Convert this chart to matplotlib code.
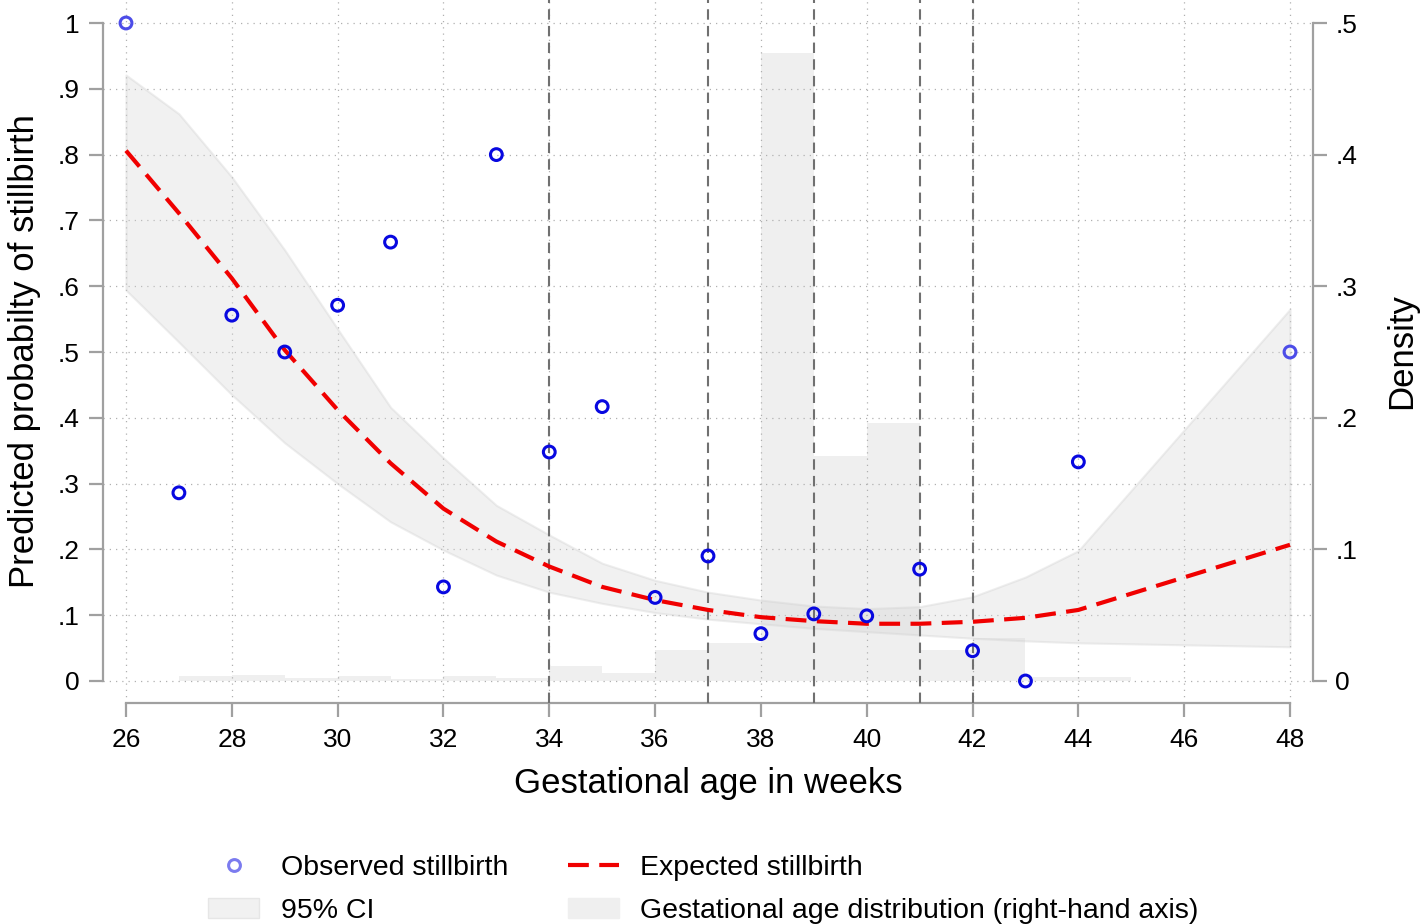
import matplotlib
matplotlib.use('Agg')
import matplotlib.pyplot as plt
from matplotlib.lines import Line2D
from matplotlib.patches import Patch

plt.rcParams['font.family'] = ['Liberation Sans', 'DejaVu Sans']

# gestational weeks with an estimate (no data at 45-47)
weeks = [26, 27, 28, 29, 30, 31, 32, 33, 34, 35, 36, 37, 38, 39, 40, 41, 42, 43, 44, 48]
# observed share of stillbirths
observed = [1.0, 0.286, 0.556, 0.5, 0.571, 0.667, 0.143, 0.8, 0.348, 0.417,
            0.127, 0.19, 0.072, 0.102, 0.099, 0.17, 0.046, 0.0, 0.333, 0.5]
# model prediction and its 95% CI
expected = [0.806, 0.711, 0.612, 0.503, 0.412, 0.331, 0.262, 0.212, 0.174, 0.143,
            0.123, 0.108, 0.097, 0.091, 0.087, 0.087, 0.090, 0.096, 0.108, 0.207]
ci_low = [0.594, 0.515, 0.435, 0.362, 0.300, 0.242, 0.199, 0.161, 0.135, 0.118,
          0.104, 0.094, 0.087, 0.080, 0.075, 0.070, 0.065, 0.061, 0.058, 0.052]
ci_high = [0.921, 0.862, 0.766, 0.655, 0.535, 0.416, 0.339, 0.267, 0.222, 0.179,
           0.153, 0.135, 0.123, 0.114, 0.110, 0.113, 0.128, 0.158, 0.198, 0.565]

# histogram of gestational age (density, right-hand axis), bins start at these weeks
hist_weeks = [27, 28, 29, 30, 31, 32, 33, 34, 35, 36, 37, 38, 39, 40, 41, 42, 43, 44]
hist_density = [0.0036, 0.0046, 0.002, 0.0036, 0.0015, 0.0036, 0.0024, 0.0116, 0.0063,
                0.0236, 0.029, 0.477, 0.171, 0.196, 0.0236, 0.0324, 0.0028, 0.0028]

# vertical reference lines
ref_weeks = [34, 37, 39, 41, 42]

x_ticks = list(range(26, 49, 2))
y_ticks = [0, 0.1, 0.2, 0.3, 0.4, 0.5, 0.6, 0.7, 0.8, 0.9, 1.0]
y_labels = ['0', '.1', '.2', '.3', '.4', '.5', '.6', '.7', '.8', '.9', '1']
y2_ticks = [0, 0.1, 0.2, 0.3, 0.4, 0.5]
y2_labels = ['0', '.1', '.2', '.3', '.4', '.5']

axis_grey = '#a0a0a0'

fig = plt.figure(figsize=(14.22, 9.24), dpi=100)
ax = fig.add_axes([103 / 1422, 221 / 924, 1210 / 1422, 703 / 924])
ax2 = ax.twinx()
ax.set_zorder(ax2.get_zorder() + 1)
ax.patch.set_visible(False)

# histogram behind everything
ax2.bar(hist_weeks, hist_density, width=1, align='edge', color='#efefef', linewidth=0)

# CI band, expected line, observed points
ax.fill_between(weeks, ci_low, ci_high, facecolor='#d6d6d6', alpha=0.33,
                edgecolor='#cdcdcd', linewidth=1.5, zorder=2)
for w in ref_weeks:
    ax.axvline(w, color='#707070', lw=1.5, dashes=(5, 3), zorder=3)
ax.plot(weeks, expected, color='#f00000', lw=3, dashes=(5, 2.5), zorder=4)
edge = [w in (min(weeks), max(weeks)) for w in weeks]
mcol = ['#4c4ce8' if e else '#0808e0' for e in edge]
ax.scatter(weeks, observed, s=72, facecolors='none', edgecolors=mcol, linewidths=2.2,
           zorder=5, clip_on=False)

# limits so the ticks sit inside the plot region, Stata style
px_x = (1290 - 126) / 22.0
ax.set_xlim(26 - 23 / px_x, 48 + 23 / px_x)
ax.set_ylim(-22 / 658, 1 + 23 / 658)
ax2.set_ylim(-22 / 1316, 0.5 + 23 / 1316)

ax.set_xticks(x_ticks)
ax.set_yticks(y_ticks)
ax.set_yticklabels(y_labels)
ax2.set_yticks(y2_ticks)
ax2.set_yticklabels(y2_labels)

ax.grid(True, linestyle=(0, (1, 4)), color='#b0b0b0', lw=0.9)
ax.set_axisbelow(True)

for s in ['top', 'right']:
    ax.spines[s].set_visible(False)
for s in ['top', 'left', 'bottom']:
    ax2.spines[s].set_visible(False)
ax.spines['left'].set_bounds(0, 1)
ax.spines['bottom'].set_bounds(26, 48)
ax2.spines['right'].set_bounds(0, 0.5)
for sp in [ax.spines['left'], ax.spines['bottom'], ax2.spines['right']]:
    sp.set_color(axis_grey)
    sp.set_linewidth(1.6)

ax.tick_params(axis='both', direction='out', length=10, width=1.6, color=axis_grey,
               labelsize=19, labelcolor='black')
ax.tick_params(axis='x', pad=8)
ax.tick_params(axis='y', pad=7)
ax2.tick_params(axis='y', direction='out', length=10, width=1.6, color=axis_grey,
                labelsize=19, labelcolor='black', pad=6)

ax.set_xlabel('Gestational age in weeks', fontsize=25, labelpad=11)
ax.set_ylabel('Predicted probabilty of stillbirth', fontsize=25, labelpad=12)
ax2.set_ylabel('Density', fontsize=25, labelpad=20)

handles = [
    Line2D([], [], ls='none', marker='o', mfc='none', mec='#7b7bef', mew=2.2, ms=8.5),
    Patch(facecolor='#f1f1f1', edgecolor='#e6e6e6'),
    Line2D([], [], color='#f00000', lw=3, dashes=(5, 2.5)),
    Patch(facecolor='#efefef', edgecolor='#efefef'),
]
labels = ['Observed stillbirth', '95% CI', 'Expected stillbirth',
          'Gestational age distribution (right-hand axis)']
fig.legend(handles, labels, loc='upper left', bbox_to_anchor=(208 / 1422, 1 - 855 / 924),
           ncol=2, frameon=False, fontsize=20.5, handlelength=1.8, handletextpad=0.75,
           columnspacing=2.1, labelspacing=0.6, borderpad=0, borderaxespad=0)

fig.savefig('out.png', dpi=100)
